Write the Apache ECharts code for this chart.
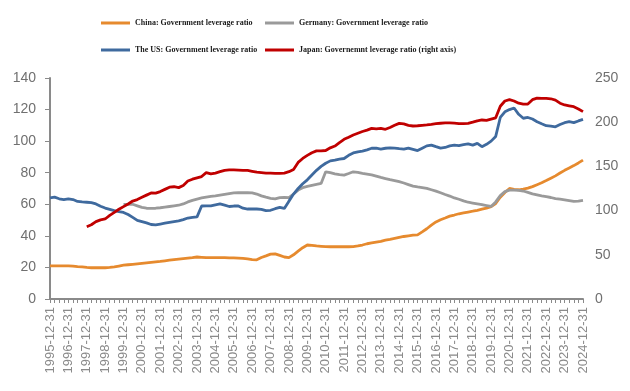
<!DOCTYPE html>
<html>
<head>
<meta charset="utf-8">
<script src="https://cdn.jsdelivr.net/npm/echarts@6/dist/echarts.min.js"></script>
<style>html,body{margin:0;padding:0;background:#fff}#c{width:630px;height:391px}</style>
</head>
<body>
<div id="c"></div>
<script>
// Quarter-end dates 1995-12-31 .. 2024-12-31
const years = [];
for (let y = 1995; y <= 2024; y++) years.push(y);
const quarterEnds = ['03-31', '06-30', '09-30', '12-31'];
const categories = [];
years.forEach(y => quarterEnds.forEach(q => { if (y > 1995 || q === '12-31') categories.push(y + '-' + q); }));

const leftTicks = [0, 20, 40, 60, 80, 100, 120, 140];
const rightTicks = [0, 50, 100, 150, 200, 250];

const china = [21,21,21,21,21,20.8,20.5,20.3,20,19.8,19.8,19.8,19.8,20,20.4,20.9,21.4,21.7,22,22.3,22.6,22.9,23.2,23.5,23.8,24.2,24.6,25,25.3,25.6,25.9,26.2,26.6,26.4,26.2,26.2,26.2,26.2,26.2,26.1,26,25.9,25.7,25.4,25,24.8,26.3,27.3,28.4,28.6,27.6,26.6,26.2,28,30.3,32.5,34.2,34,33.6,33.4,33.2,33.1,33.1,33.1,33.1,33.1,33.2,33.6,34.2,35,35.5,36,36.5,37.3,37.8,38.4,39,39.6,40,40.4,40.6,42.5,44.5,46.8,48.8,50.2,51.3,52.5,53.2,54,54.6,55.1,55.6,56.2,56.9,57.6,58.5,60.5,64.5,67.5,70,69.5,69.2,69.6,70.2,71.2,72.4,73.6,75,76.5,78,79.8,81.5,83,84.5,86.2,88];

const germany = [null,null,null,null,null,null,null,null,null,null,null,null,null,null,null,null,60,60,60,59,58,57.5,57.4,57.5,57.8,58.2,58.6,59,59.4,60.2,61.5,62.5,63.3,64,64.5,65,65.3,65.8,66.3,66.8,67.2,67.3,67.3,67.3,67.2,66.5,65.3,64.5,63.8,63.4,64.2,64.4,64.2,66.5,69,70.5,71.3,72,72.6,73.2,80.6,80,79.3,78.8,78.5,79.5,80.6,80.2,79.6,79.1,78.6,77.8,77,76.3,75.6,75,74.3,73.5,72.5,71.5,71,70.6,70.1,69.2,68.3,67.3,66.2,65.2,64,63.2,62.2,61.3,60.8,60.3,59.8,59.2,58.6,61.5,65.5,68,69,69,68.8,68.4,67.5,66.6,66,65.3,64.8,64.3,63.6,63.2,62.8,62.3,61.8,62,62.5];

const us = [64,64.5,63.5,63,63.5,63,61.8,61.5,61.3,61,60.2,58.8,57.6,56.8,56,55.3,54.8,53.5,51.7,49.8,49,48.2,47.2,47,47.5,48,48.5,49,49.5,50.3,51.3,51.7,52,58.9,59,59,59.6,60.2,59.5,58.6,58.9,58.9,57.5,57,57,57,56.8,56,56.2,57.2,58,57.4,62,66.5,70,73,75.5,78.5,81.5,84,86,87.5,88,88.6,89,91,92.5,93.2,93.7,94.5,95.5,95.6,95,95.5,95.8,95.6,95.2,95,95.6,94.8,94,95.5,97,97.5,96.5,95.6,96,97,97.5,97.2,97.8,98.2,97.5,98.6,96.5,98,100,103,115,118.6,120,121,117,114.5,115,114,112.3,111,109.8,109.5,109.1,110.5,111.7,112.3,111.7,112.8,113.8];

const japan = [null,null,null,null,null,null,null,null,81.8,84,87.5,89.5,90.5,94.5,98,101.5,104.5,107.5,110.8,112.5,115,117.5,120,119.8,121.5,124,126.5,127,126,128.5,133.5,135.5,137,138.5,143,141.5,142.5,144,145.5,146,146,145.8,145.5,145.5,144.5,143.5,143,142.5,142.3,142,142,142.5,144,146.5,154.5,159,162.5,165.5,167.5,167.5,168,171,173,177,180.6,183,185.5,187.5,189.5,191,193,192.5,193,192,194,196.5,198.7,198,196.5,195.7,196,196.5,197,197.6,198.3,198.8,199.2,199.3,199,198.5,198.5,198.7,200,201.5,202.5,202,203.5,205,218,224,225.5,224,221.5,220.5,220.6,225.5,227.3,227,227,226.5,225,221.5,219.5,218.5,217.5,215,212];

const names = ['China: Government leverage ratio', 'Germany: Government leverage ratio', 'The US: Government leverage ratio', 'Japan: Governemnt leverage ratio (right axis)'];
const colors = ['#E68A2E', '#9A9A9A', '#3F6A9E', '#C00000'];

const legendText = { fontFamily: 'Liberation Serif', fontWeight: 'bold', fontSize: 8, color: '#1a1a1a' };
function leg(name, left, top) {
  return { data: [name], left: left, top: top, icon: 'rect', itemWidth: 29, itemHeight: 3, itemGap: 0, textStyle: legendText, padding: 0, selectedMode: false };
}

const chart = echarts.init(document.getElementById('c'), null, { renderer: 'canvas' });
const axisLabelStyle = { color: '#707070', fontFamily: 'Liberation Sans', fontSize: 14 };
chart.setOption({
  animation: false,
  backgroundColor: '#fff',
  legend: [leg(names[0], 101, 19), leg(names[1], 265, 19), leg(names[2], 101, 46), leg(names[3], 265, 46)],
  grid: { left: 50, right: 47, top: 78, bottom: 92 },
  xAxis: {
    type: 'category', data: categories, boundaryGap: false,
    axisLine: { lineStyle: { color: '#8a8a8a', width: 2 } },
    axisTick: { interval: 0, length: 4, lineStyle: { color: '#8a8a8a', width: 1 } },
    axisLabel: { interval: 3, rotate: 90, margin: 8, color: '#8a8a8a', fontFamily: 'Liberation Sans', fontSize: 13 },
    splitLine: { show: false }
  },
  yAxis: [
    { type: 'value', min: leftTicks[0], max: leftTicks[leftTicks.length - 1], interval: 20,
      axisLine: { show: true, lineStyle: { color: '#8a8a8a', width: 2 } },
      axisTick: { show: true, length: 5, lineStyle: { color: '#8a8a8a' } },
      axisLabel: Object.assign({ margin: 14 }, axisLabelStyle), splitLine: { show: false } },
    { type: 'value', min: rightTicks[0], max: rightTicks[rightTicks.length - 1], interval: 50,
      axisLine: { show: false }, axisTick: { show: false },
      axisLabel: Object.assign({ margin: 12 }, axisLabelStyle), splitLine: { show: false } }
  ],
  series: [
    { name: names[0], type: 'line', data: china, yAxisIndex: 0, color: colors[0] },
    { name: names[1], type: 'line', data: germany, yAxisIndex: 0, color: colors[1] },
    { name: names[2], type: 'line', data: us, yAxisIndex: 0, color: colors[2] },
    { name: names[3], type: 'line', data: japan, yAxisIndex: 1, color: colors[3] }
  ].map(s => Object.assign(s, { symbol: 'none', showSymbol: false, lineStyle: { width: 2.8, color: s.color }, itemStyle: { color: s.color } }))
});
</script>
</body>
</html>
